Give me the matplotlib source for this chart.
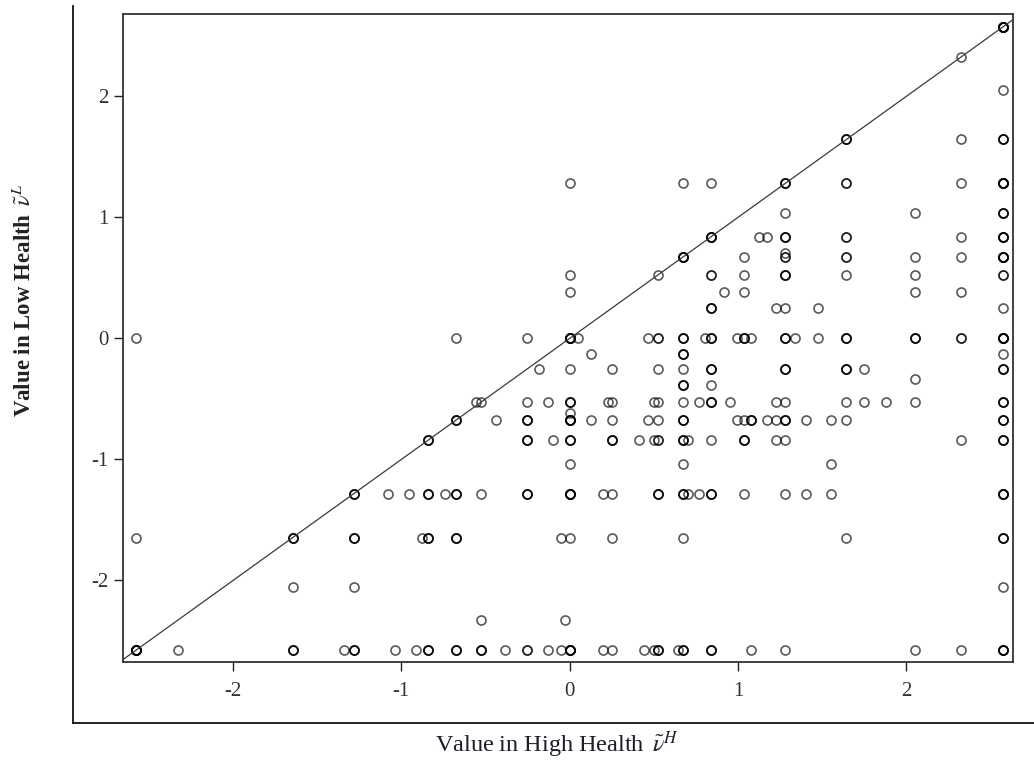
import matplotlib
matplotlib.use("Agg")
import matplotlib.pyplot as plt
from matplotlib.lines import Line2D
import numpy as np

# values (normal scores), one block per row of low-health value
# hi = value in high health, lo = value in low health, reps = how many points overlap there
hi = []
lo = []
reps = []

def row(y, xs):
    for x in xs:
        if isinstance(x, tuple):
            hi.append(x[0]); lo.append(y); reps.append(x[1])
        else:
            hi.append(x); lo.append(y); reps.append(1)

row(2.576, [(2.576, 6)])
row(2.326, [2.326])
row(2.054, [2.576])
row(1.645, [(1.645, 3), 2.326, (2.576, 3)])
row(1.282, [0, 0.674, 0.842, (1.282, 3), (1.645, 2), 2.326, (2.576, 5)])
row(1.036, [1.282, 2.054, (2.576, 3)])
row(0.842, [(0.842, 4), 1.126, 1.175, (1.282, 3), (1.645, 2), 2.326, (2.576, 4)])
row(0.706, [1.282])
row(0.674, [(0.674, 4), 1.036, (1.282, 2), (1.645, 2), 2.054, 2.326, (2.576, 5)])
row(0.524, [0, 0.524, (0.842, 2), 1.036, (1.282, 3), 1.645, 2.054, (2.576, 2)])
row(0.385, [0, 0.915, 1.036, 2.054, 2.326])
row(0.253, [(0.842, 3), 1.227, 1.282, 1.476, 2.576])
row(0.0, [-2.576, -0.674, -0.253, (0, 5), 0.05, 0.468, (0.524, 2), (0.674, 3), 0.806,
          (0.842, 3), 0.994, (1.036, 3), 1.08, (1.282, 3), 1.341, 1.476, (1.645, 3),
          (2.054, 3), (2.326, 2), (2.576, 5)])
row(-0.126, [0.126, (0.674, 3), 2.576])
row(-0.253, [-0.18, 0, 0.253, 0.524, 0.674, (0.842, 3), (1.282, 3), (1.645, 3), 1.751,
             (2.576, 3)])
row(-0.332, [2.054])
row(-0.385, [(0.674, 3), 0.842])
row(-0.524, [-0.553, -0.524, -0.253, -0.126, (0, 3), 0.228, 0.253, 0.5, 0.524, 0.674,
             0.772, (0.842, 3), 0.954, 1.227, 1.282, 1.645, 1.751, 1.881, 2.054, (2.576, 3)])
row(-0.613, [0])
row(-0.674, [(-0.674, 3), -0.44, (-0.253, 3), (0, 5), 0.126, 0.253, 0.468, 0.524, (0.674, 3),
             0.994, 1.036, (1.08, 3), 1.175, 1.227, (1.282, 3), 1.405, 1.555, 1.645, (2.576, 3)])
row(-0.842, [(-0.842, 3), (-0.253, 3), -0.1, (0, 3), (0.253, 3), 0.412, 0.5, (0.524, 2),
             (0.674, 3), 0.706, 0.842, (1.036, 3), 1.227, 1.282, 2.326, (2.576, 3)])
row(-1.036, [0, 0.674, 1.555])
row(-1.282, [(-1.282, 3), -1.08, -0.954, (-0.842, 3), -0.739, (-0.674, 3), -0.524, (-0.253, 3),
             (0, 5), 0.2, 0.253, (0.524, 3), (0.674, 3), 0.706, 0.772, (0.842, 3), 1.036, 1.282,
             1.405, 1.555, (2.576, 4)])
row(-1.645, [-2.576, (-1.645, 3), (-1.282, 3), -0.878, (-0.842, 3), (-0.674, 3), -0.05, 0,
             0.253, 0.674, 1.645, (2.576, 3)])
row(-2.054, [-1.645, -1.282, 2.576])
row(-2.326, [-0.524, -0.025])
row(-2.576, [(-2.576, 6), -2.326, (-1.645, 3), -1.341, (-1.282, 3), -1.036, -0.915, (-0.842, 3),
             (-0.674, 3), (-0.524, 3), -0.385, (-0.253, 2), -0.126, -0.05, (0, 5), 0.2, 0.253,
             0.44, 0.5, (0.524, 3), 0.643, (0.674, 3), (0.842, 3), 1.08, 1.282, 2.054, 2.326,
             (2.576, 4)])

ticks = [-2, -1, 0, 1, 2]

plt.rcParams['font.family'] = ['Liberation Serif', 'DejaVu Serif']
plt.rcParams['mathtext.fontset'] = 'stix'
plt.rcParams['axes.unicode_minus'] = False

fig = plt.figure(figsize=(10.34, 7.61), dpi=100)
ax = fig.add_axes([0.1187, 0.1297, 0.8607, 0.8515])

# overlapping points get darker, like the original
x_all = np.repeat(hi, reps)
y_all = np.repeat(lo, reps)
ax.plot(x_all, y_all, 'o', ms=6.5, mfc='none', mec='black', mew=1.2, alpha=0.65, ls='none')

ax.axline((0, 0), slope=1, color='#3a3a3a', lw=0.9)

ax.set_xlim(-2.655, 2.633)
ax.set_ylim(-2.676, 2.679)
ax.set_xticks(ticks)
ax.set_yticks(ticks)
ax.tick_params(direction='out', length=6.5, width=1.0, color='#222222', labelsize=15,
               labelcolor='#333333')
ax.tick_params(axis='x', pad=7.5)
ax.tick_params(axis='y', pad=3.5)
for s in ax.spines.values():
    s.set_linewidth(1.3)
    s.set_color('#333333')

ax.set_xlabel(r'Value in High Health $\,\tilde{\nu}^H$', fontsize=17.5, color='#1c1c2c')
ax.xaxis.set_label_coords(0.488, -0.1276)
ax.xaxis.label.set_va('center')
ax.set_ylabel(r'Value in Low Health $\,\tilde{\nu}^L$', fontsize=16.5, fontweight='bold', color='#222222')
ax.yaxis.set_label_coords(-0.1098, 0.559)
ax.yaxis.label.set_va('center')

# outer frame lines (left and bottom) around the plot
fig.add_artist(Line2D([0.0709, 0.0709], [0.992, 0.050], color='#111111', lw=1.3))
fig.add_artist(Line2D([0.0709, 1.0], [0.050, 0.050], color='#111111', lw=1.3))

fig.savefig('out.png', dpi=100)
